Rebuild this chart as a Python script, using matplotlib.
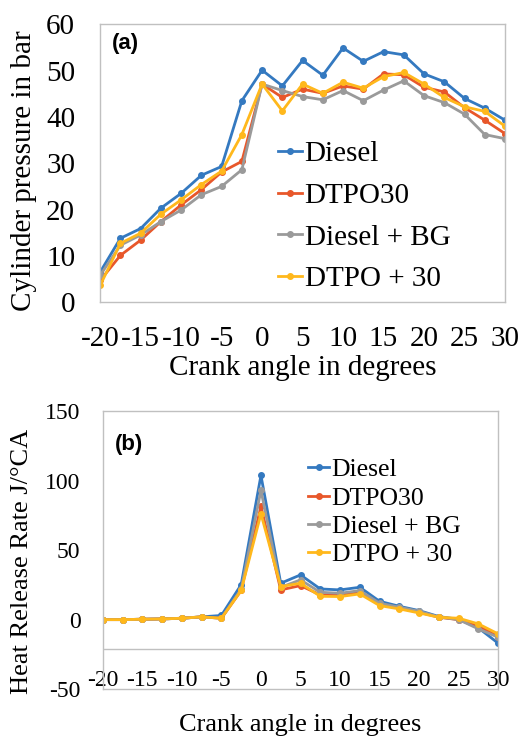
import matplotlib
matplotlib.use("Agg")
import matplotlib.pyplot as plt

plt.rcParams["axes.unicode_minus"] = False

# crank angle, every 2.5 degrees
crank = [-20, -17.5, -15, -12.5, -10, -7.5, -5, -2.5, 0, 2.5, 5, 7.5,
         10, 12.5, 15, 17.5, 20, 22.5, 25, 27.5, 30]
labels = ["Diesel", "DTPO30", "Diesel + BG", "DTPO + 30"]
colors = ["#3479c0", "#e8572a", "#9a9a9a", "#ffb81c"]

# (a) cylinder pressure, bar
p_diesel = [6.5, 13.8, 15.9, 20.3, 23.5, 27.4, 29.3, 43.5, 50.1, 46.7, 52.2,
            49.0, 54.9, 52.0, 54.1, 53.4, 49.3, 47.6, 44.0, 41.9, 39.3]
p_dtpo30 = [4.7, 10.1, 13.4, 17.4, 21.0, 24.3, 28.1, 30.4, 47.1, 44.2, 46.0,
            45.1, 46.7, 46.0, 49.3, 49.1, 46.4, 45.4, 42.0, 39.3, 36.4]
p_dbg = [5.8, 12.3, 14.5, 17.4, 19.9, 23.2, 25.0, 28.6, 47.1, 45.7, 44.4,
         43.7, 45.7, 43.5, 45.8, 47.8, 44.6, 43.1, 40.6, 36.2, 35.3]
p_dtpo_30 = [3.6, 12.7, 14.9, 19.0, 22.1, 25.4, 28.3, 36.2, 47.1, 41.3, 47.1,
             45.1, 47.5, 46.2, 48.7, 49.6, 47.1, 44.2, 42.2, 41.2, 38.0]

# (b) heat release rate, J/degCA
h_diesel = [0, 0, 0.3, 0.5, 1, 2, 3, 25.2, 103.8, 26.2, 32.2, 22.1, 21.4,
            23.3, 13.2, 9.6, 6.5, 2.2, 0.2, -6, -17]
h_dtpo30 = [0, 0, 0.3, 0.5, 1, 2, 1, 21, 81.5, 21.4, 24.5, 17.8, 18, 19.7,
            11.3, 8.4, 5.3, 1.7, 0, -4.3, -12.3]
h_dbg = [0, 0, 0.3, 0.5, 1, 2, 1, 22, 93, 23.3, 28.6, 19.7, 19, 20.9, 11.8,
         8.9, 6, 1.9, 0, -6.7, -12.7]
h_dtpo_30 = [0, 0, 0.3, 0.5, 1, 2, 1, 21, 76.2, 23.8, 26.2, 16.8, 16.6, 18.5,
             10.1, 7.7, 4.8, 1.7, 1, -3.1, -10.3]

serif = "Liberation Serif"
grey = "#c0c0c0"

fig = plt.figure(figsize=(5.19, 7.37), dpi=100)
ax1 = fig.add_axes([0.193, 0.590, 0.780, 0.377])
ax2 = fig.add_axes([0.198, 0.065, 0.762, 0.377])


def style(ax):
    for s in ax.spines.values():
        s.set_color(grey)
        s.set_linewidth(1)
    ax.tick_params(length=0)
    for t in ax.get_xticklabels() + ax.get_yticklabels():
        t.set_fontfamily(serif)


for ys, c, lab in zip([p_diesel, p_dtpo30, p_dbg, p_dtpo_30], colors, labels):
    ax1.plot(crank, ys, color=c, lw=2, marker="o", ms=4, label=lab)
ax1.set_xlim(-20, 30)
ax1.set_ylim(0, 60)
ax1.set_xticks(range(-20, 31, 5))
ax1.set_yticks(range(0, 61, 10))
ax1.tick_params(axis="both", labelsize=21)
ax1.tick_params(axis="y", pad=18)
ax1.tick_params(axis="x", pad=17.5)
style(ax1)
ax1.set_ylabel("Cylinder pressure in bar", fontsize=21, family=serif)
ax1.yaxis.set_label_coords(-0.156, 0.475)
ax1.set_xlabel("Crank angle in degrees", fontsize=21, family=serif)
ax1.xaxis.set_label_coords(0.5, -0.19)
ax1.text(0.03, 0.93, "(a)", transform=ax1.transAxes, fontsize=16,
         fontweight="bold", family="Liberation Sans", va="center")
ax1.legend(loc="upper left", bbox_to_anchor=(0.44, 0.58), frameon=False,
           prop={"family": serif, "size": 21}, handlelength=0.8,
           handletextpad=0.1, labelspacing=0.52, borderpad=0, borderaxespad=0)

for ys, c, lab in zip([h_diesel, h_dtpo30, h_dbg, h_dtpo_30], colors, labels):
    ax2.plot(crank, ys, color=c, lw=2, marker="o", ms=4, label=lab)
ax2.axhline(-21, color=grey, lw=1)
ax2.set_xlim(-20, 30)
ax2.set_ylim(-50, 150)
ax2.set_xticks(range(-20, 31, 5))
ax2.set_yticks(range(-50, 151, 50))
ax2.tick_params(axis="both", labelsize=17)
ax2.tick_params(axis="y", pad=16)
ax2.tick_params(axis="x", pad=-14)
style(ax2)
ax2.set_ylabel("Heat Release Rate J/\u00b0CA", fontsize=19, family=serif)
ax2.yaxis.set_label_coords(-0.177, 0.46)
ax2.set_xlabel("Crank angle in degrees", fontsize=19, family=serif)
ax2.xaxis.set_label_coords(0.5, -0.09)
ax2.text(0.03, 0.88, "(b)", transform=ax2.transAxes, fontsize=16,
         fontweight="bold", family="Liberation Sans", va="center")
ax2.legend(loc="upper left", bbox_to_anchor=(0.52, 0.83), frameon=False,
           prop={"family": serif, "size": 18.5}, handlelength=0.8,
           handletextpad=0.1, labelspacing=0.2, borderpad=0, borderaxespad=0)

fig.savefig("out.png", dpi=100)
